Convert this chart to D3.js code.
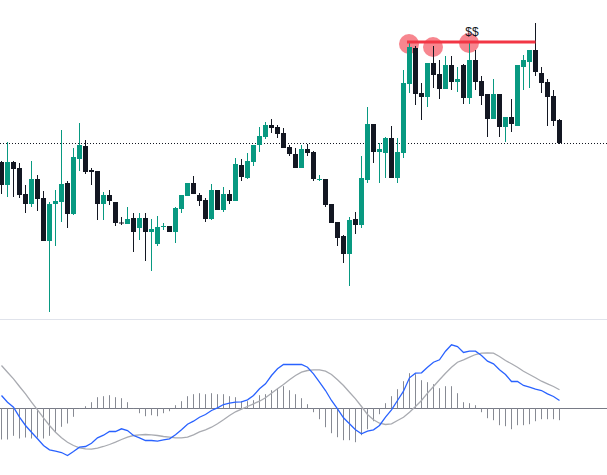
<!DOCTYPE html>
<html>
<head>
<meta charset="utf-8">
<script src="https://cdn.jsdelivr.net/npm/d3@7"></script>
<style>
  html, body { margin: 0; padding: 0; background: #fff; }
  svg { display: block; }
</style>
</head>
<body>
<script>
// price candles (oldest -> newest)
const opens = [238,215,238,232,206,196,221,202,159,196,198,217,186,241,254,230,229,196,205,198,
  177.5,176,182,172,182,168,156,173,174,168,191,204,217,205,200,181,210,190,206,199,
  235,222,238,255,263,275,273,267,253,246,232,251,248,220.5,221,196,178,164,146,181,
  175,220,276,248,247,262,222,247,316,352,307,303,337,326,311,335,318,335,302,340,
  319,306,281,306,273,283,274,333,338,350,327,318,304,280];
const highs = [239,258,239,237,215,239,225,209,198,210,270,219,252,277,260,232,229,208,210,198,
  183,193,187,187,187,181,184,177,174,193,205,217,224,207,202,216,210,213,210,242,
  241,247,255,273,278,281,275,272,255,252,255,256,249,225,221,196,178,165,183,188,
  244,293,276,257,263,274,262,330,357,354,317,337,354,340,344,344,333,336,358,350,
  324,306,321,306,283,301,335,345,350,377,333,321,310,281];
const lows = [206,203,203,202,187,193,189,159,88,154,178,172,185,229,226,215,180,180,195,174,
  175,176,148,160,139,129,154,170,168,157,187,204,206,194,178,180,190,188,196,199,
  219,221,234,248,261,267,262,252,244,232,232,244,219,219,193,177,154,137,114,166,
  172,217,237,217,222,222,217,242,307,295,280,293,312,301,311,310,308,296,296,310,
  295,263,281,263,258,268,274,310,312,324,307,274,274,256];
const closes = [215,238,231,205,196,221,201,159,196,199,216,186,243,255,228,228,196,205,199,177,
  177,181,168,182,168,171,173,174,168,192,205,217,206,199,181,210,190,206,199,236,
  223,239,255,264,275,272,266,252,246,232,251,247,221,221,195,177,162,146,180,175,
  222,276,248,251,262,222,248,317,353,306,303,337,325,311,335,318,321,302,340,318,
  304,281,306,273,283,276,335,340,350,328,317,303,279,257];

// resistance level drawn on the chart
const levelPrice = 358;
const levelFrom = 68, levelTo = 89;
const touches = [68, 72, 78];
const levelLabel = '$$';

// MACD panel
const macdLine = [13,6.3,1.3,-8.7,-17,-23.7,-30.3,-37,-41.3,-42.7,-44,-47,-43,-38.7,-38,-34.7,-29.3,-26.7,-23,-23,
  -20.3,-22,-27,-29.3,-32,-32,-32.7,-31.3,-30.3,-26.3,-21.3,-15.7,-12.7,-8.7,-6,-2,0.7,4,5.3,6.3,
  6.7,8.7,13,19.7,24.7,33,39.7,44,44,44,44,41.3,34.7,26.3,18,8,-0.3,-9.3,-15.3,-21.3,
  -25.3,-22.7,-21.3,-17,-8.7,-1.3,8,17.3,30.7,35.3,35.7,41.3,46.3,48.7,57.3,63.7,62,56,57.3,57.3,
  53,47.3,44.7,38.7,34,27,27,23,21.3,19.3,18,14.7,12,8];
const signalLine = [43,36.3,29.7,22,14.7,6.3,-1.3,-9.3,-17,-23.7,-29.3,-33.7,-37,-39.3,-40.3,-40.7,-39.7,-38,-36,-33.7,
  -31,-28.7,-27,-26.3,-26,-26.3,-27,-28,-28.7,-29.3,-29.3,-28.7,-26.3,-23.3,-21.3,-18.7,-15.3,-11.3,-7,-3.3,
  -0.7,2,4.7,7.3,10.7,15.3,19.7,24,28.7,33,36.3,38,38.7,38.7,37.3,34,28.7,23,16.3,9.7,
  2,-6,-11.3,-14.7,-16,-15.3,-12,-8.7,-3.7,2,8,15.3,22,28.7,35.3,41.3,46.3,48.7,51.3,54,
  55.3,55.7,55.3,52,48,44.7,41.3,37.3,34,30.7,27.3,24.7,22,18.7];
const histogram = [-31,-31,-27.3,-30,-29,-30,-29,-30,-27.3,-23.3,-18.3,-15,-8.3,-0.5,2.3,6.3,11.3,12.3,13.3,11.3,
  10.3,6.3,0.5,-4.7,-7.7,-6.7,-7.7,-4.7,-2.7,3.3,7.3,12.3,14.3,15.3,14.3,15.3,14.3,14.3,12.3,11.3,
  7.3,7.3,8.3,13.3,14.3,18.3,20.3,22.3,18.3,14.3,10.3,4.3,-3.7,-10.7,-18.7,-24.7,-28.7,-31.7,-31.7,-33.7,
  -26.7,-20.7,-12.7,-5.7,5.3,12.3,19.3,27.3,35.3,34.3,28.3,26.3,24.3,20.3,22.3,22.3,15.3,6.3,5.3,3.3,
  -3.7,-9.7,-11.7,-16.7,-17.7,-20.7,-16.7,-16.7,-15.7,-12.7,-10.7,-10.7,-10.7,-11.7];

const width = 607, height = 475;
const upColor = '#089981', downColor = '#131722';

const svg = d3.select('body').append('svg')
  .attr('width', width)
  .attr('height', height)
  .style('font-family', '"Liberation Sans", Arial, sans-serif');

const idx = d3.range(closes.length);

// 6px per bar, 5px body
const x = d3.scaleBand()
  .domain(idx)
  .range([-1.5, 562.5])
  .paddingInner(1 / 6)
  .paddingOuter(1 / 12);
const cx = (i) => x(i) + x.bandwidth() / 2;

const y = d3.scaleLinear()
  .domain([d3.min(lows), d3.max(highs)])
  .range([312, 23]);

const yM = d3.scaleLinear()
  .domain([-60, 70])
  .range([468.5, 338.5]);

// pane separator
svg.append('line')
  .attr('x1', 0).attr('x2', width)
  .attr('y1', 319.5).attr('y2', 319.5)
  .attr('stroke', '#e0e3eb');

// last price dotted line
svg.append('line')
  .attr('x1', 0).attr('x2', width)
  .attr('y1', Math.round(y(closes[closes.length - 1])) + 0.5)
  .attr('y2', Math.round(y(closes[closes.length - 1])) + 0.5)
  .attr('stroke', '#131722')
  .attr('stroke-dasharray', '1,2');

// touch circles (behind candles)
svg.selectAll('.touch')
  .data(touches)
  .enter()
  .append('circle')
  .attr('class', 'touch')
  .attr('cx', (i) => cx(i) - 0.5)
  .attr('cy', (i) => y(highs[i]) + 1)
  .attr('r', 10)
  .attr('fill', 'rgba(242,54,69,0.6)');

let candles = svg.selectAll('.candle')
  .data(idx)
  .enter()
  .append('g')
  .attr('class', 'candle')
  .attr('fill', (i) => closes[i] >= opens[i] ? upColor : downColor)
  .attr('stroke', (i) => closes[i] >= opens[i] ? upColor : downColor);

candles.append('line')
  .attr('x1', (i) => cx(i)).attr('x2', (i) => cx(i))
  .attr('y1', (i) => y(highs[i]))
  .attr('y2', (i) => y(lows[i]))
  .attr('stroke-width', 1);

candles.append('rect')
  .attr('x', (i) => x(i))
  .attr('width', x.bandwidth())
  .attr('y', (i) => y(Math.max(opens[i], closes[i])))
  .attr('height', (i) => Math.max(1, Math.abs(y(opens[i]) - y(closes[i]))))
  .attr('stroke', 'none');

// resistance line + label
svg.append('line')
  .attr('x1', x(levelFrom)).attr('x2', cx(levelTo))
  .attr('y1', y(levelPrice)).attr('y2', y(levelPrice))
  .attr('stroke', '#f23645')
  .attr('stroke-width', 3);

svg.append('text')
  .attr('x', cx(touches[2]) + 2.5)
  .attr('y', y(levelPrice) - 6)
  .attr('text-anchor', 'middle')
  .attr('font-size', 12)
  .attr('fill', '#131722')
  .text(levelLabel);

// MACD pane
svg.append('line')
  .attr('x1', 0).attr('x2', width)
  .attr('y1', yM(0)).attr('y2', yM(0))
  .attr('stroke', '#787b86');

svg.selectAll('.hist')
  .data(idx)
  .enter()
  .append('rect')
  .attr('class', 'hist')
  .attr('x', (i) => cx(i) - 0.5)
  .attr('width', 1)
  .attr('y', (i) => Math.min(yM(0), yM(histogram[i])))
  .attr('height', (i) => Math.abs(yM(histogram[i]) - yM(0)))
  .attr('fill', '#878a93');

const lineGen = (vals) => d3.line()
  .x((i) => cx(i))
  .y((i) => yM(vals[i]))(idx);

svg.append('path')
  .attr('d', lineGen(signalLine))
  .attr('fill', 'none')
  .attr('stroke', '#a9abb1')
  .attr('stroke-width', 1.3);

svg.append('path')
  .attr('d', lineGen(macdLine))
  .attr('fill', 'none')
  .attr('stroke', '#2962ff')
  .attr('stroke-width', 1.3);
</script>
</body>
</html>
